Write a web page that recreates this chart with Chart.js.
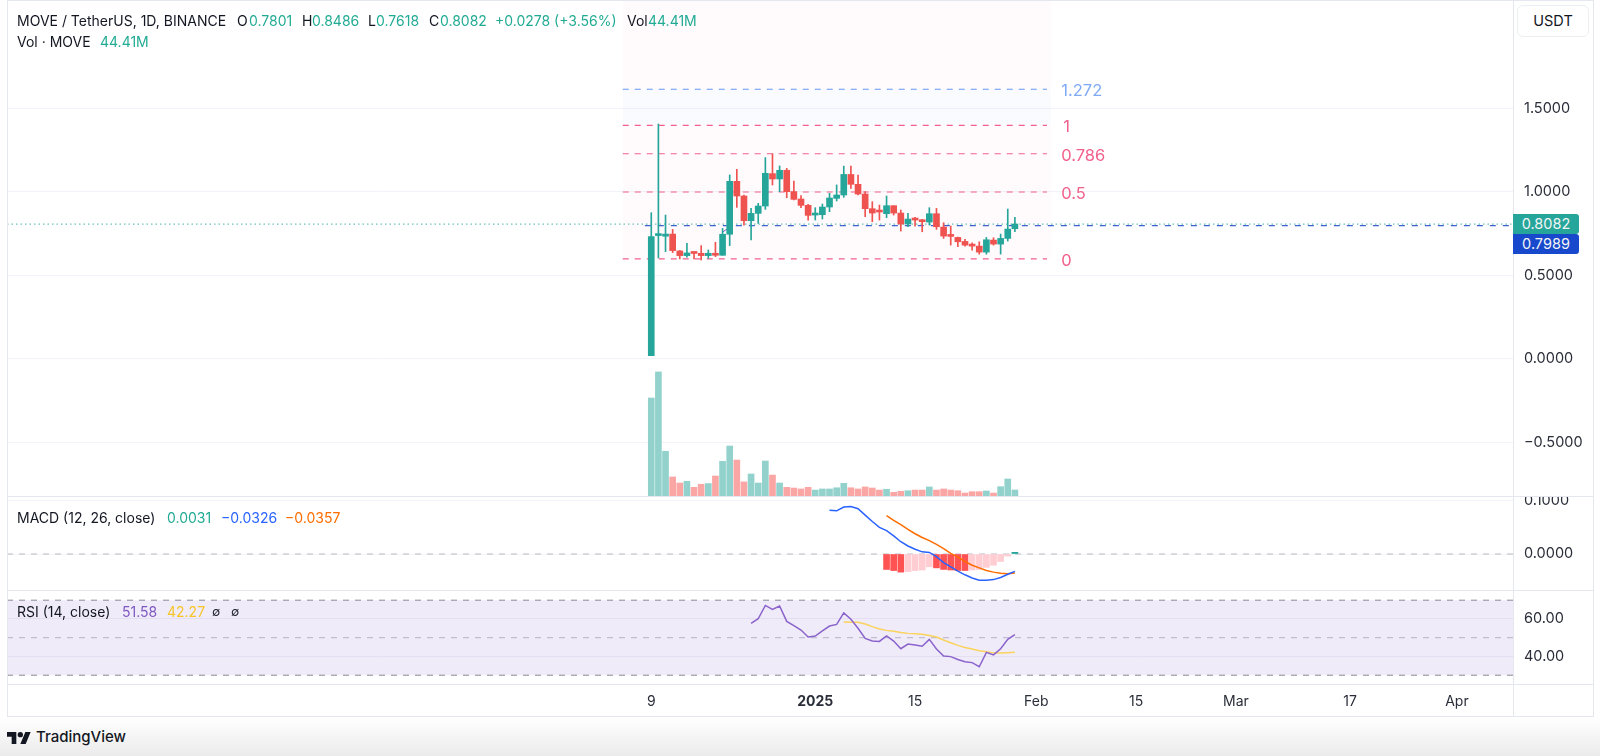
<!DOCTYPE html>
<html>

<head>
   <meta charset="UTF-8">
   <title>MOVE / TetherUS</title>
   <script src="https://cdn.jsdelivr.net/npm/chart.js@4"></script>
   <style>
      html, body { margin: 0; padding: 0; background: #fff; }
      body { width: 1600px; height: 756px; overflow: hidden; position: relative;
         font-family: Inter, "Noto Sans", sans-serif; color: #131722; }
      canvas { position: absolute; left: 7px; }
      .t { position: absolute; white-space: nowrap; font-size: 14px; line-height: 18px; }
      .up { color: #22ab94; }
      .hline { position: absolute; height: 1px; background: #e4e7ee; }
      .vline { position: absolute; width: 1px; background: #e4e7ee; }
      #footer { position: absolute; left: 0; top: 717px; width: 1600px; height: 39px;
         background: linear-gradient(#fff, #ebebeb); }
      #usdt { position: absolute; left: 1517px; top: 5px; width: 70px; height: 30px; line-height: 30px;
         text-align: center; border: 1px solid #eceef2; border-radius: 6px; font-size: 14.5px; background: #fff; }
      .tag { position: absolute; left: 1513px; width: 66px; height: 20px; line-height: 20px; text-align: center;
         color: #f2f5f5; font-size: 14.5px; border-radius: 0 3px 3px 0; }
   </style>
</head>

<body>
   <canvas id="mainCanvas" style="top:0" width="1586" height="496"></canvas>
   <canvas id="macdCanvas" style="top:497px" width="1586" height="93"></canvas>
   <canvas id="rsiCanvas" style="top:591px" width="1586" height="125"></canvas>

   <!-- pane frame -->
   <div class="hline" style="left:7px;top:0;width:1587px"></div>
   <div class="hline" style="left:7px;top:496px;width:1587px"></div>
   <div class="hline" style="left:7px;top:590px;width:1587px"></div>
   <div class="hline" style="left:7px;top:684px;width:1587px"></div>
   <div class="hline" style="left:7px;top:716px;width:1587px"></div>
   <div class="vline" style="left:7px;top:0;height:717px"></div>
   <div class="vline" style="left:1513px;top:0;height:717px"></div>
   <div class="vline" style="left:1593px;top:0;height:717px"></div>

   <div id="usdt">USDT</div>
   <div class="tag" style="top:214px;background:#26a69a">0.8082</div>
   <div class="tag" style="top:234px;background:#1848cc">0.7989</div>

   <!-- legends -->
   <div class="t" style="left:17px;top:12px">MOVE / TetherUS, 1D, BINANCE</div>
   <div class="t" style="left:237px;top:12px">O</div><div class="t up" style="left:249px;top:12px">0.7801</div>
   <div class="t" style="left:302px;top:12px">H</div><div class="t up" style="left:312px;top:12px">0.8486</div>
   <div class="t" style="left:368px;top:12px">L</div><div class="t up" style="left:376px;top:12px">0.7618</div>
   <div class="t" style="left:429px;top:12px">C</div><div class="t up" style="left:440px;top:12px">0.8082</div>
   <div class="t up" style="left:495px;top:12px">+0.0278 (+3.56%)</div>
   <div class="t" style="left:627px;top:12px">Vol</div><div class="t up" style="left:648px;top:12px">44.41M</div>
   <div class="t" style="left:17px;top:33px">Vol · MOVE</div><div class="t up" style="left:100px;top:33px">44.41M</div>

   <div class="t" style="left:17px;top:509px">MACD (12, 26, close)</div>
   <div class="t up" style="left:167px;top:509px">0.0031</div>
   <div class="t" style="left:221px;top:509px;color:#2962ff">−0.0326</div>
   <div class="t" style="left:285px;top:509px;color:#ff6d00">−0.0357</div>

   <div class="t" style="left:17px;top:603px">RSI (14, close)</div>
   <div class="t" style="left:122px;top:603px;color:#7e57c2">51.58</div>
   <div class="t" style="left:167px;top:603px;color:#f7c52b">42.27</div>
   <div class="t" style="left:212px;top:603px;font-size:12px">∅</div>
   <div class="t" style="left:231px;top:603px;font-size:12px">∅</div>

   <div id="footer"></div>
   <svg style="position:absolute;left:7px;top:731px" width="24" height="14" viewBox="0 4 36 18">
      <path fill="#131722" d="M14 22H7V11H0V4h14v18zM28 22h-8l7.5-18h8L28 22z" />
      <circle fill="#131722" cx="20" cy="8" r="4" />
   </svg>
   <div class="t" style="left:36px;top:728px;font-size:15px;font-weight:500">TradingView</div>

   <script>
      // daily bars, 9 Dec 2024 onward
      const opens = [0.02, 0.739, 0.735, 0.748, 0.647, 0.619, 0.638, 0.633, 0.619, 0.633, 0.621, 0.747, 1.064,
         0.976, 0.828, 0.872, 0.916, 1.110, 1.078, 1.130, 1.002, 0.958, 0.920, 0.862, 0.864, 0.910, 0.962,
         0.982, 1.105, 1.046, 0.988, 0.900, 0.884, 0.870, 0.918, 0.874, 0.808, 0.842, 0.832, 0.820, 0.870,
         0.790, 0.740, 0.728, 0.704, 0.684, 0.676, 0.640, 0.712, 0.688, 0.722, 0.7801];
      const highs = [0.876, 1.407, 0.862, 0.776, 0.650, 0.693, 0.640, 0.679, 0.653, 0.699, 0.782, 1.102, 1.136,
         0.982, 0.902, 0.932, 1.206, 1.229, 1.156, 1.142, 1.066, 0.978, 0.926, 0.906, 0.928, 0.992, 1.042,
         1.155, 1.155, 1.102, 1.002, 0.942, 0.922, 0.976, 0.918, 0.892, 0.872, 0.848, 0.836, 0.906, 0.902,
         0.816, 0.796, 0.730, 0.716, 0.696, 0.702, 0.728, 0.726, 0.748, 0.898, 0.8486];
      const lows = [0.02, 0.605, 0.643, 0.637, 0.599, 0.609, 0.599, 0.593, 0.603, 0.613, 0.621, 0.679, 0.908,
         0.802, 0.713, 0.812, 0.896, 1.042, 1.002, 0.966, 0.952, 0.906, 0.832, 0.832, 0.838, 0.882, 0.946,
         0.968, 1.022, 0.982, 0.852, 0.822, 0.832, 0.846, 0.862, 0.766, 0.792, 0.796, 0.762, 0.802, 0.776,
         0.722, 0.682, 0.672, 0.676, 0.652, 0.628, 0.628, 0.682, 0.628, 0.706, 0.7618];
      const closes = [0.733, 0.745, 0.748, 0.649, 0.619, 0.635, 0.632, 0.619, 0.633, 0.621, 0.747, 1.064, 0.976,
         0.828, 0.872, 0.916, 1.112, 1.078, 1.130, 1.002, 0.956, 0.920, 0.860, 0.868, 0.910, 0.964, 0.982,
         1.105, 1.046, 0.988, 0.900, 0.874, 0.880, 0.918, 0.874, 0.808, 0.838, 0.832, 0.822, 0.870, 0.792,
         0.736, 0.734, 0.702, 0.682, 0.676, 0.640, 0.714, 0.688, 0.722, 0.778, 0.8082];
      const volumes = [725, 918, 331, 141, 96, 109, 64, 87, 92, 148, 257, 370, 266, 104, 163, 96, 259, 155, 96,
         64, 59, 52, 64, 44, 52, 52, 61, 94, 61, 52, 67, 59, 44, 50, 27, 35, 39, 44, 44, 67, 44, 52, 44, 39,
         22, 32, 32, 37, 22, 69, 126, 44.41];

      const n = null;
      const macdLine = [n, n, n, n, n, n, n, n, n, n, n, n, n, n, n, n, n, n, n, n, n, n, n, n, n,
         0.082, 0.081, 0.088, 0.089, 0.085, 0.073, 0.061, 0.050, 0.044, 0.034, 0.023, 0.015, 0.009, 0.004, 0.003,
         -0.005, -0.016, -0.024, -0.032, -0.039, -0.045, -0.049, -0.049, -0.048, -0.044, -0.038, -0.0326];
      const signalLine = [n, n, n, n, n, n, n, n, n, n, n, n, n, n, n, n, n, n, n, n, n, n, n, n, n, n, n, n, n, n, n, n, n,
         0.072, 0.063, 0.055, 0.046, 0.038, 0.031, 0.025, 0.018, 0.010, 0.001, -0.006, -0.014, -0.021, -0.026,
         -0.031, -0.034, -0.036, -0.037, -0.0357];
      const histogram = [n, n, n, n, n, n, n, n, n, n, n, n, n, n, n, n, n, n, n, n, n, n, n, n, n, n, n, n, n, n, n, n, n,
         -0.029, -0.031, -0.034, -0.033, -0.031, -0.030, -0.024, -0.026, -0.029, -0.030, -0.031, -0.031, -0.030,
         -0.029, -0.025, -0.021, -0.014, -0.004, 0.0031];
      const rsiValues = [n, n, n, n, n, n, n, n, n, n, n, n, n, n, 57.6, 60.1, 67.2, 65.1, 66.9, 58.7, 56.4, 54.1,
         50.4, 50.9, 53.6, 56.2, 57.1, 63.2, 59.8, 55.0, 49.6, 48.2, 48.0, 50.9, 48.2, 44.1, 46.6, 46.1, 45.4,
         49.1, 44.0, 40.2, 39.9, 38.4, 37.2, 36.7, 34.5, 42.2, 40.8, 44.1, 49.1, 51.58];
      const rsiMa = [n, n, n, n, n, n, n, n, n, n, n, n, n, n, n, n, n, n, n, n, n, n, n, n, n, n, n, 58.4, 58.2, 58.2,
         57.3, 55.9, 54.6, 53.9, 53.4, 52.8, 52.3, 52.1, 51.8, 51.2, 50.4, 48.8, 47.3, 45.9, 44.8, 44, 43, 42.5,
         41.9, 41.8, 42, 42.27];

      // fib levels of the drawing
      const fibLabels = ["1.272", "1", "0.786", "0.5", "0"];
      const fibPrices = [1.615, 1.399, 1.229, 1.0, 0.6];
      const fibColors = ["#7fa9f5", "#f2608c", "#f2608c", "#f2608c", "#f2608c"];
      const fibStartBar = -4;
      const fibLineEndBar = 55.5;
      const fibEndBar = 56.1;

      const lastPrice = 0.8082;
      const prevLevel = 0.7989;

      const priceTicks = [1.5, 1, 0.5, 0, -0.5];
      const macdTicks = [0.1, 0];
      const rsiTicks = [60, 40];
      const timeTickBars = [0, 23, 37, 54, 68, 82, 98, 113];
      const timeTickLabels = ["9", "2025", "15", "Feb", "15", "Mar", "17", "Apr"];

      const UP = "#26a69a";
      const DOWN = "#ef5350";
      const FONT = "Inter";
      const GRID = "#f1f3f8";
      const FIB_PINK = "rgba(242,54,140,0.022)";

      // same x window on all three panes
      const xScale = { type: "linear", min: -90.36, max: 120.86, offset: false, display: false };
      const baseOptions = {
         responsive: false,
         animation: false,
         devicePixelRatio: 1,
         layout: { padding: 0, autoPadding: false },
         plugins: { legend: { display: false }, tooltip: { enabled: false } }
      };

      const points = (values) => values.map((v, i) => ({ x: i, y: v }));
      const hLine = (fromBar, toBar, y) => [{ x: fromBar, y: y }, { x: toBar, y: y }];

      // tick labels add padding around the scale, the panes must fill their canvases exactly
      function dropPadding(scale) {
         scale.paddingTop = 0;
         scale.paddingBottom = 0;
         scale.paddingLeft = 0;
         scale.paddingRight = 0;
      }

      function priceAxis(min, max, ticks, decimals) {
         return {
            position: "right",
            min: min,
            max: max,
            border: { display: false },
            grid: { color: GRID, drawTicks: false },
            afterFit: (scale) => { scale.width = 80; dropPadding(scale); },
            afterBuildTicks: (scale) => { scale.ticks = ticks.map(v => ({ value: v })); },
            ticks: {
               padding: 11,
               color: "#2a2e39",
               font: { family: FONT, size: 14.5 },
               callback: (v) => (v < 0 ? "−" : "") + Math.abs(v).toFixed(decimals)
            }
         };
      }

      function lineSet(data, color, extra) {
         return Object.assign({
            type: "line",
            data: data,
            borderColor: color,
            borderWidth: 1.5,
            pointRadius: 0,
            fill: false,
            tension: 0
         }, extra);
      }

      // fib level names next to their lines
      const fibLabelPlugin = {
         id: "fibLabels",
         afterDatasetsDraw(chart) {
            const ctx = chart.ctx;
            ctx.save();
            ctx.font = "16.5px " + FONT;
            ctx.textBaseline = "middle";
            fibLabels.forEach((label, i) => {
               ctx.fillStyle = fibColors[i];
               ctx.fillText(label, chart.scales.x.getPixelForValue(fibEndBar) + 10 + (label == "1" ? 2 : 0),
                  chart.scales.y.getPixelForValue(fibPrices[i]) + 2);
            });
            ctx.restore();
         }
      };

      const barColors = closes.map((c, i) => c >= opens[i] ? UP : DOWN);
      const volColors = closes.map((c, i) => c >= opens[i] ? "#93d2cc" : "#faa6a5");

      const fibLines = fibPrices.map((p, i) => lineSet(hLine(fibStartBar, fibLineEndBar, p), fibColors[i], {
         borderWidth: 1.2, borderDash: [6, 6], order: 4
      }));

      new Chart(document.getElementById("mainCanvas"), {
         type: "bar",
         plugins: [fibLabelPlugin],
         data: {
            datasets: [
               // fib background bands
               lineSet(hLine(fibStartBar, fibEndBar, fibPrices[4]), "transparent", {
                  borderWidth: 0, order: 12,
                  fill: { value: fibPrices[1] }, backgroundColor: FIB_PINK
               }),
               lineSet(hLine(fibStartBar, fibEndBar, fibPrices[1]), "transparent", {
                  borderWidth: 0, order: 12,
                  fill: { value: fibPrices[0] }, backgroundColor: "rgba(41,98,255,0.025)"
               }),
               lineSet(hLine(fibStartBar, fibEndBar, fibPrices[0]), "transparent", {
                  borderWidth: 0, order: 12,
                  fill: "end", backgroundColor: FIB_PINK
               }),
               ...fibLines,
               lineSet(hLine(-0.9, xScale.max, prevLevel), "#3f62d0", { borderWidth: 1.2, borderDash: [6, 7], order: 3 }),
               lineSet(hLine(xScale.min, xScale.max, lastPrice), "#6cc4bb", { borderWidth: 1.2, borderDash: [1.5, 3], order: 2 }),
               // a stray bit of a drawing left of the big bar
               lineSet([{ x: 10, y: 0.76 }, { x: 10.7, y: 0.78 }], "#7e57c2", { borderWidth: 1, order: 3 }),
               {
                  type: "bar",
                  yAxisID: "yVol",
                  data: volumes.map((v, i) => ({ x: i, y: v })),
                  backgroundColor: volColors,
                  barThickness: 6,
                  grouped: false,
                  order: 5
               },
               {
                  type: "bar",
                  data: highs.map((h, i) => ({ x: i, y: [lows[i], h] })),
                  backgroundColor: barColors,
                  barThickness: 1,
                  grouped: false,
                  order: 1
               },
               {
                  type: "bar",
                  data: opens.map((o, i) => ({ x: i, y: [o, closes[i]] })),
                  backgroundColor: barColors,
                  barThickness: 6,
                  minBarLength: 2,
                  grouped: false,
                  order: 0
               }
            ]
         },
         options: Object.assign({}, baseOptions, {
            scales: {
               x: xScale,
               y: priceAxis(-0.8204, 2.1497, priceTicks, 4),
               yVol: { display: false, min: 0, max: 3670 }
            }
         })
      });

      new Chart(document.getElementById("macdCanvas"), {
         type: "bar",
         data: {
            datasets: [
               lineSet(hLine(xScale.min, xScale.max, 0), "#b8bbc4", { borderWidth: 1, borderDash: [6, 6], order: 5 }),
               {
                  type: "bar",
                  data: points(histogram),
                  backgroundColor: histogram.map((v, i) => {
                     if (v > 0) return UP;
                     // falling histogram is solid, rising is pale
                     return (i <= 35 || (i >= 40 && i <= 44)) ? "#ff5252" : "#ffcdd2";
                  }),
                  barThickness: 6,
                  grouped: false,
                  order: 3
               },
               lineSet(points(signalLine), "#ff6d00", { order: 2 }),
               lineSet(points(macdLine), "#2962ff", { order: 1 })
            ]
         },
         options: Object.assign({}, baseOptions, {
            scales: { x: xScale, y: priceAxis(-0.0675, 0.1069, macdTicks, 4) }
         })
      });

      new Chart(document.getElementById("rsiCanvas"), {
         type: "line",
         data: {
            datasets: [
               lineSet(hLine(xScale.min, xScale.max, 30), "#8a8d97", {
                  borderWidth: 1, borderDash: [6, 6], order: 6,
                  fill: { value: 70 }, backgroundColor: "rgba(126,87,194,0.12)"
               }),
               lineSet(hLine(xScale.min, xScale.max, 70), "#8a8d97", { borderWidth: 1, borderDash: [6, 6], order: 6 }),
               lineSet(hLine(xScale.min, xScale.max, 50), "#bdbfc8", { borderWidth: 1, borderDash: [6, 6], order: 6 }),
               lineSet(points(rsiMa), "#fbd35c", { order: 2 }),
               lineSet(points(rsiValues), "#8a63cc", { order: 1 })
            ]
         },
         options: Object.assign({}, baseOptions, {
            scales: {
               x: {
                  type: "linear",
                  min: xScale.min,
                  max: xScale.max,
                  offset: false,
                  border: { display: false },
                  grid: { display: false, drawTicks: false },
                  afterFit: (scale) => { scale.height = 32; dropPadding(scale); },
                  afterBuildTicks: (scale) => { scale.ticks = timeTickBars.map(v => ({ value: v })); },
                  ticks: {
                     autoSkip: false,
                     maxRotation: 0,
                     padding: 9,
                     color: "#2a2e39",
                     font: (c) => ({ family: FONT, size: 14, weight: c.tick && c.tick.value == 23 ? "bold" : "normal" }),
                     callback: (v) => timeTickLabels[timeTickBars.indexOf(v)]
                  }
               },
               y: Object.assign(priceAxis(25.3, 74.9, rsiTicks, 2), { grid: { color: "#f3f1f9", drawTicks: false } })
            }
         })
      });
   </script>
</body>

</html>
